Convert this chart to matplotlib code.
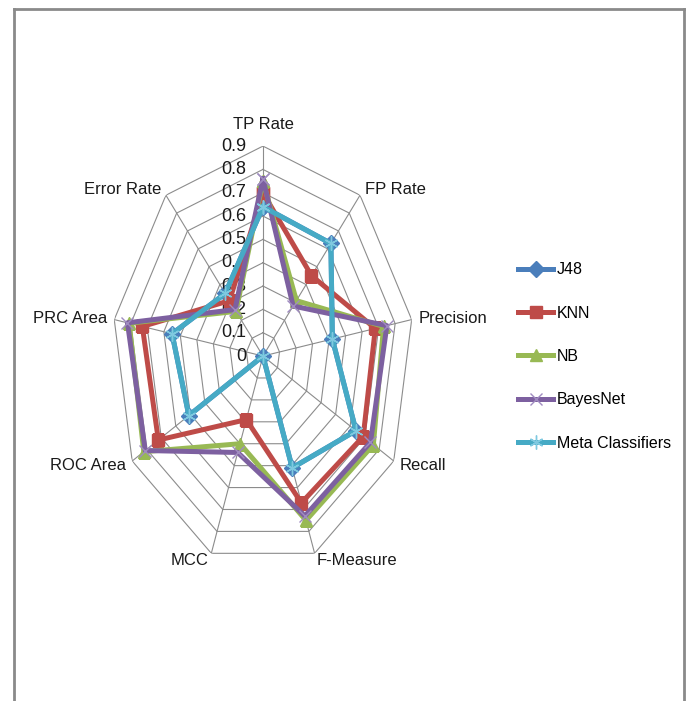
import numpy as np
import matplotlib
matplotlib.use('Agg')
import matplotlib.pyplot as plt
from matplotlib.transforms import offset_copy
from matplotlib.lines import Line2D

plt.rcParams['font.family'] = ['Liberation Sans', 'DejaVu Sans']

categories = ['TP Rate', 'FP Rate', 'Precision', 'Recall', 'F-Measure',
              'MCC', 'ROC Area', 'PRC Area', 'Error Rate']
tick_values = [0, 0.1, 0.2, 0.3, 0.4, 0.5, 0.6, 0.7, 0.8, 0.9]
tick_labels = ['0', '0.1', '0.2', '0.3', '0.4', '0.5', '0.6', '0.7', '0.8', '0.9']

j48 = [0.64, 0.63, 0.42, 0.64, 0.51, 0.00, 0.51, 0.55, 0.35]
knn = [0.70, 0.45, 0.68, 0.69, 0.67, 0.29, 0.72, 0.73, 0.31]
nb = [0.75, 0.31, 0.73, 0.76, 0.75, 0.40, 0.82, 0.81, 0.25]
bayesnet = [0.76, 0.28, 0.75, 0.74, 0.73, 0.44, 0.81, 0.82, 0.26]
meta = [0.64, 0.63, 0.42, 0.64, 0.51, 0.00, 0.51, 0.55, 0.35]

series = [
    ('J48', j48, '#4A7EBB', 'D', 8),
    ('KNN', knn, '#BE4B48', 's', 8),
    ('NB', nb, '#98B954', '^', 9),
    ('BayesNet', bayesnet, '#7D60A0', 'x', 8),
    ('Meta Classifiers', meta, '#46AAC5', '*', 10),
]

n = len(categories)
angles = np.arange(n) * 2 * np.pi / n
closed = np.append(angles, angles[0])

fig = plt.figure(figsize=(6.92, 7.01), dpi=100)
ax = fig.add_axes([0.1618, 0.1926, 0.4364, 0.599], projection='polar')
ax.set_theta_zero_location('N')
ax.set_theta_direction(-1)
ax.set_aspect('auto')
ax.set_ylim(0, 0.9)
ax.set_xticks([])
ax.set_yticks([])
ax.grid(False)
ax.spines['polar'].set_visible(False)
ax.patch.set_visible(False)

grid_col = '#8C8C8C'
for r in tick_values[1:]:
    ax.plot(closed, [r] * (n + 1), color=grid_col, lw=0.8, zorder=1)
for a in angles:
    ax.plot([a, a], [0, tick_values[-1]], color=grid_col, lw=0.8, zorder=1)

for i, (name, vals, col, mk, ms) in enumerate(series):
    v = np.append(vals, vals[0])
    if mk == '*':
        ax.plot(closed, v, color=col, lw=3.6, zorder=3 + i, label=name,
                marker=(6, 2, 0), markersize=ms, markeredgewidth=1.0,
                markeredgecolor='#7FC9E0')
    elif mk == 'x':
        ax.plot(closed, v, color=col, lw=3.6, zorder=3 + i, label=name,
                marker='x', markersize=ms, markeredgewidth=1.0,
                markeredgecolor='#A08CC0')
    else:
        ax.plot(closed, v, color=col, lw=3.6, zorder=3 + i, label=name,
                marker=mk, markersize=ms, markerfacecolor=col,
                markeredgecolor=col)

# radial tick labels along the TP Rate axis
tick_tr = offset_copy(ax.transData, fig=fig, x=-17, y=0, units='dots')
for v, lab in zip(tick_values, tick_labels):
    ax.text(0, v, lab, transform=tick_tr, ha='right', va='center',
            fontsize=13, color='#1A1A1A')

# category labels
for a, lab in zip(angles, categories):
    s, c = np.sin(a), np.cos(a)
    if abs(s) < 0.1:
        tr = offset_copy(ax.transData, fig=fig, x=0, y=14, units='dots')
        ax.text(a, 0.9, lab, transform=tr, ha='center', va='bottom',
                fontsize=12, color='#1A1A1A')
    else:
        tr = offset_copy(ax.transData, fig=fig, x=7 * s, y=8 * c, units='dots')
        ax.text(a, 0.9, lab, transform=tr, ha='left' if s > 0 else 'right',
                va='center', fontsize=12, color='#1A1A1A')

fig.legend(loc='center left', bbox_to_anchor=(0.7486, 0.4914), frameon=False,
           fontsize=11.5, handlelength=2.2, handletextpad=0.25,
           labelspacing=1.78, borderpad=0, borderaxespad=0)

# outer frame
frame_col = '#8A8A8A'
fig.add_artist(Line2D([0.0202, 0.9884], [0.987, 0.987], color=frame_col, lw=2,
                      transform=fig.transFigure))
fig.add_artist(Line2D([0.0202, 0.0202], [0.987, -0.01], color=frame_col, lw=2,
                      transform=fig.transFigure))
fig.add_artist(Line2D([0.9884, 0.9884], [0.987, -0.01], color=frame_col, lw=2,
                      transform=fig.transFigure))

fig.savefig('out.png', dpi=100)
